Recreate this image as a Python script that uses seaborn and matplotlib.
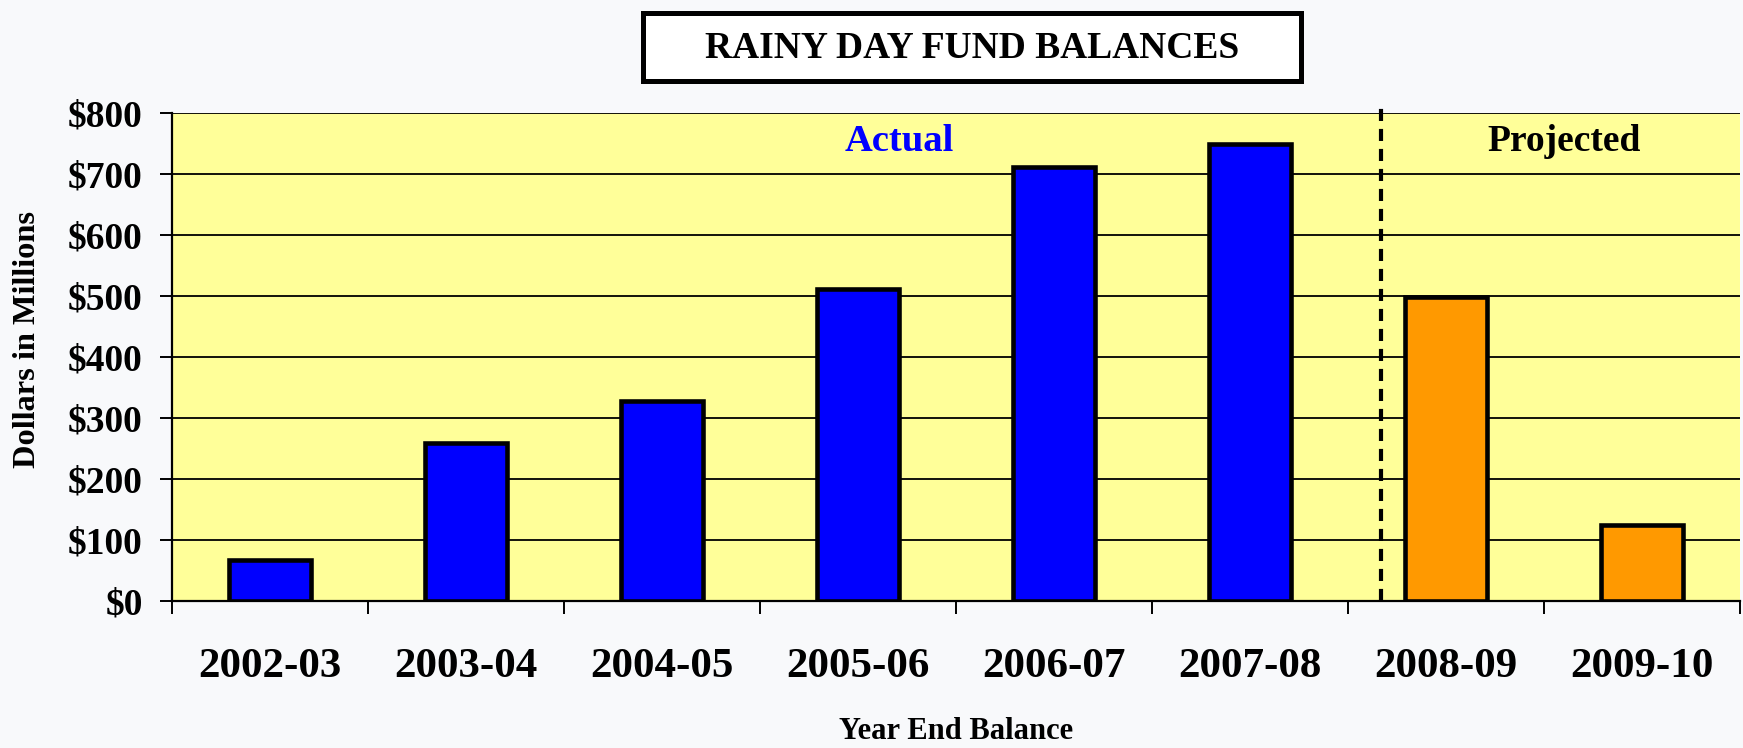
import matplotlib
matplotlib.use("Agg")
import matplotlib.pyplot as plt
from matplotlib.patches import Rectangle
from matplotlib.ticker import FixedLocator, FuncFormatter
import seaborn as sns
import pandas as pd

# ---- data ----
years = ["2002-03", "2003-04", "2004-05", "2005-06", "2006-07", "2007-08", "2008-09", "2009-10"]
balances = [68, 259, 328, 512, 712, 749, 499, 124]
status = ["Actual", "Actual", "Actual", "Actual", "Actual", "Actual", "Projected", "Projected"]
y_ticks = [0, 100, 200, 300, 400, 500, 600, 700, 800]

df = pd.DataFrame({"year": years, "balance": balances, "status": status})

sns.set_theme(style="white")
plt.rcParams["font.family"] = ["Liberation Serif", "DejaVu Serif"]
plt.rcParams["font.weight"] = "bold"

bg = "#F8F9FB"
fig = plt.figure(figsize=(17.43, 7.48), dpi=100, facecolor=bg)
ax = fig.add_axes([172 / 1743, 1 - 601 / 748, 1568 / 1743, (601 - 113) / 748])
ax.set_facecolor("#FFFF99")

sns.barplot(data=df, x="year", y="balance", hue="status",
            palette={"Actual": "#0000FF", "Projected": "#FF9900"},
            saturation=1, dodge=False, width=0.42, edgecolor="black", linewidth=3.3,
            legend=False, ax=ax, zorder=3)

ax.set_xlim(-0.5, len(years) - 0.5)
ax.set_ylim(0, 800)

# gridlines
ax.yaxis.set_major_locator(FixedLocator(y_ticks))
ax.yaxis.set_major_formatter(FuncFormatter(lambda v, p: f"${int(v)}"))
ax.grid(axis="y", color="black", linewidth=1.3, zorder=1)
ax.set_axisbelow(True)

# spines
for s in ["top", "right"]:
    ax.spines[s].set_visible(False)
ax.spines["left"].set_color("black")
ax.spines["left"].set_linewidth(1.6)
ax.spines["bottom"].set_color("black")
ax.spines["bottom"].set_linewidth(1.6)

# ticks
ax.tick_params(axis="y", which="major", direction="out", length=9, width=1.4,
               color="black", pad=12, labelsize=27, left=True)
ax.set_xticks(range(len(years)))
ax.set_xticklabels(years)
ax.set_xticks([i - 0.5 for i in range(len(years) + 1)], minor=True)
ax.tick_params(axis="x", which="major", length=0, pad=34, labelsize=31)
ax.tick_params(axis="x", which="minor", direction="out", length=9, width=1.4,
               color="black", bottom=True)
for lab in ax.get_xticklabels() + ax.get_yticklabels():
    lab.set_fontweight("bold")
    lab.set_color("black")

ax.set_xlabel("Year End Balance", fontsize=22, fontweight="bold", labelpad=22, color="black")
ax.set_ylabel("Dollars in Millions", fontsize=23.3, fontweight="bold", color="black")
ax.yaxis.set_label_coords(-0.0826, 0.535)

# divider between actual and projected
ax.axvline(5.668, ymin=0, ymax=1.015, color="black", linewidth=3,
           linestyle=(0, (2.9, 1.9)), zorder=4, clip_on=False)

ax.text(3.21, 753, "Actual", color="#0000FF", fontsize=27.7, fontweight="bold",
        ha="center", va="center", zorder=5)
ax.text(6.6, 753, "Projected", color="black", fontsize=27, fontweight="bold",
        ha="center", va="center", zorder=5)

# title box
fig.patches.append(Rectangle((643 / 1743, 1 - 81 / 748), 658 / 1743, 68 / 748,
                             transform=fig.transFigure, facecolor="white",
                             edgecolor="black", linewidth=3.6))
fig.text(972 / 1743, 1 - 48 / 748, "RAINY DAY FUND BALANCES", fontsize=27,
         fontweight="bold", ha="center", va="center", color="black")

fig.savefig("out.png", dpi=100, facecolor=bg)
